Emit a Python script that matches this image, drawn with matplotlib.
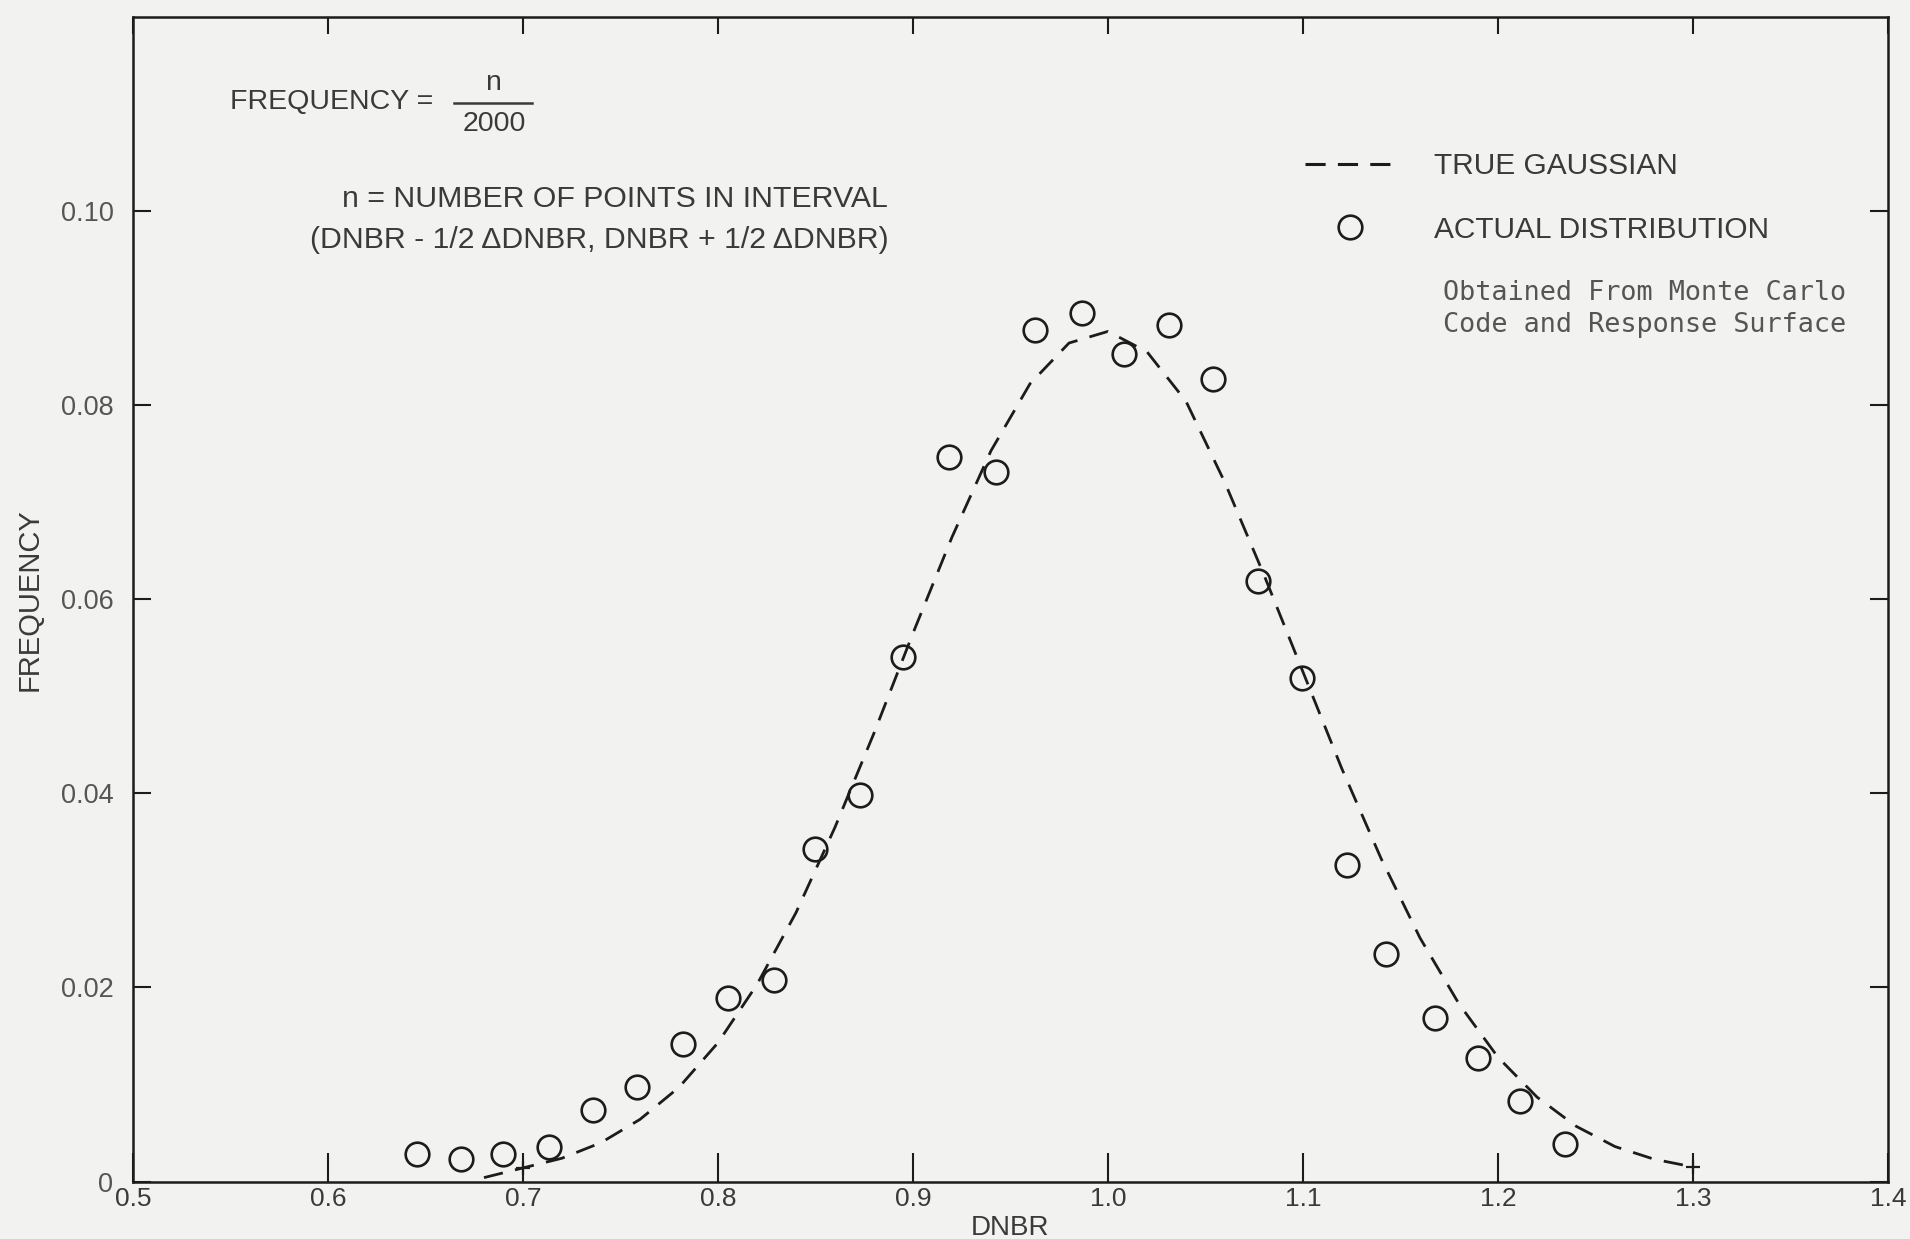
import matplotlib.pyplot as plt
from matplotlib.lines import Line2D

# actual distribution (circles)
dnbr_pts = [0.6455, 0.668, 0.690, 0.7136, 0.736, 0.7586, 0.782, 0.805, 0.8285,
            0.850, 0.873, 0.8947, 0.9185, 0.9428, 0.9628, 0.9866, 1.0084, 1.0315,
            1.054, 1.0771, 1.0996, 1.1227, 1.1427, 1.1677, 1.1896, 1.2114, 1.2345]
freq_pts = [0.0028, 0.0023, 0.0028, 0.0036, 0.0074, 0.0097, 0.0142, 0.0189, 0.0208,
            0.0343, 0.0398, 0.0540, 0.0747, 0.0731, 0.0877, 0.0895, 0.0853, 0.0883,
            0.0827, 0.0619, 0.0519, 0.0326, 0.0234, 0.0168, 0.0127, 0.0083, 0.0039]

# true gaussian (dashed)
gauss_x = [0.68, 0.70, 0.72, 0.74, 0.76, 0.78, 0.80, 0.82, 0.84, 0.86, 0.88, 0.90,
           0.92, 0.94, 0.96, 0.98, 1.00, 1.02, 1.04, 1.06, 1.08, 1.10, 1.12, 1.14,
           1.16, 1.18, 1.20, 1.22, 1.24, 1.26, 1.28, 1.30]
gauss_y = [0.0004, 0.0014, 0.0024, 0.0040, 0.0064, 0.0097, 0.0143, 0.0203, 0.0277,
           0.0365, 0.0462, 0.0565, 0.0664, 0.0753, 0.0822, 0.0864, 0.0876, 0.0855,
           0.0804, 0.0720, 0.0625, 0.0525, 0.0425, 0.0333, 0.0251, 0.0183, 0.0128,
           0.0087, 0.0057, 0.0036, 0.0023, 0.0015]

cross_x = [0.70, 1.30]
cross_y = [0.0014, 0.0015]

xticks = [0.5, 0.6, 0.7, 0.8, 0.9, 1.0, 1.1, 1.2, 1.3, 1.4]
yticks = [0, 0.02, 0.04, 0.06, 0.08, 0.10]
ylabels = ["0", "0.02", "0.04", "0.06", "0.08", "0.10"]

bg = "#f2f2f0"
ink = "#1c1c1c"
txt = "#3a3a3a"
sans = ["Liberation Sans", "DejaVu Sans"]

fig = plt.figure(figsize=(19.10, 12.39), dpi=100, facecolor=bg)
ax = fig.add_axes([0.0696, 0.0464, 0.9189, 0.9399])
ax.set_facecolor(bg)

ax.plot(gauss_x, gauss_y, color=ink, lw=2.0, ls=(0, (7, 4.5)))
ax.plot(cross_x, cross_y, ls="none", marker="+", ms=10, mew=1.6, color=ink)
pts_line, = ax.plot(dnbr_pts, freq_pts, ls="none", marker="o", ms=17,
                    mfc="none", mec=ink, mew=1.9, label="ACTUAL DISTRIBUTION")
gauss_handle = Line2D([], [], color=ink, lw=2.2, ls=(0, (6.6, 4.0)),
                      label="TRUE GAUSSIAN")

ax.set_xlim(0.5, 1.4)
ax.set_ylim(0, 0.12)
ax.set_xticks(xticks)
ax.set_xticklabels([f"{v:.1f}" for v in xticks])
ax.set_yticks(yticks)
ax.set_yticklabels(ylabels)

for s in ax.spines.values():
    s.set_linewidth(1.8)
    s.set_color(ink)

ax.tick_params(axis="x", direction="in", top=True, width=1.5, pad=4,
               labelsize=19, labelcolor=txt, color=ink)
ax.tick_params(axis="y", direction="in", right=True, width=1.5, length=13, pad=14,
               labelsize=19.5, labelcolor="#555555", color=ink)
for t in ax.xaxis.get_major_ticks():
    t.tick1line.set_markersize(21)
    t.tick2line.set_markersize(12)
for lab in ax.get_xticklabels() + ax.get_yticklabels():
    lab.set_family(sans)

ax.set_xlabel("DNBR", fontsize=20, color=txt, family=sans, labelpad=3)
ax.set_ylabel("FREQUENCY", fontsize=21, color=txt, family=sans)
ax.yaxis.set_label_coords(-0.051, 0.5)

# annotations
ax.text(0.0553, 0.927, "FREQUENCY =", transform=ax.transAxes, fontsize=20.5,
        color=txt, family=sans, ha="left", va="center")
ax.text(0.2051, 0.943, "n", transform=ax.transAxes, fontsize=20.5,
        color=txt, family=sans, ha="center", va="center")
ax.text(0.206, 0.908, "2000", transform=ax.transAxes, fontsize=20.5,
        color=txt, family=sans, ha="center", va="center")
ax.add_line(Line2D([0.183, 0.2273], [0.9257, 0.9257], transform=ax.transAxes,
                   color=txt, lw=1.8))
ax.text(0.2744, 0.844, "n = NUMBER OF POINTS IN INTERVAL", transform=ax.transAxes,
        fontsize=21.8, color=txt, family=sans, ha="center", va="center")
ax.text(0.266, 0.8085, "(DNBR - 1/2 \u0394DNBR, DNBR + 1/2 \u0394DNBR)",
        transform=ax.transAxes, fontsize=21.8, color=txt, family=sans,
        ha="center", va="center")

mono = ["DejaVu Sans Mono"]
ax.text(0.7466, 0.7626, "Obtained From Monte Carlo", transform=ax.transAxes,
        fontsize=19.4, color="#555555", family=mono, ha="left", va="center")
ax.text(0.7466, 0.7355, "Code and Response Surface", transform=ax.transAxes,
        fontsize=19.4, color="#555555", family=mono, ha="left", va="center")

leg = ax.legend(handles=[gauss_handle, pts_line], loc="upper left",
                bbox_to_anchor=(0.668, 0.884), frameon=False, borderpad=0,
                borderaxespad=0, handlelength=3.0, handletextpad=1.3,
                labelspacing=1.2, numpoints=1, prop={"family": sans, "size": 21.5})
for t in leg.get_texts():
    t.set_color(txt)

fig.savefig("out.png", dpi=100, facecolor=bg)
